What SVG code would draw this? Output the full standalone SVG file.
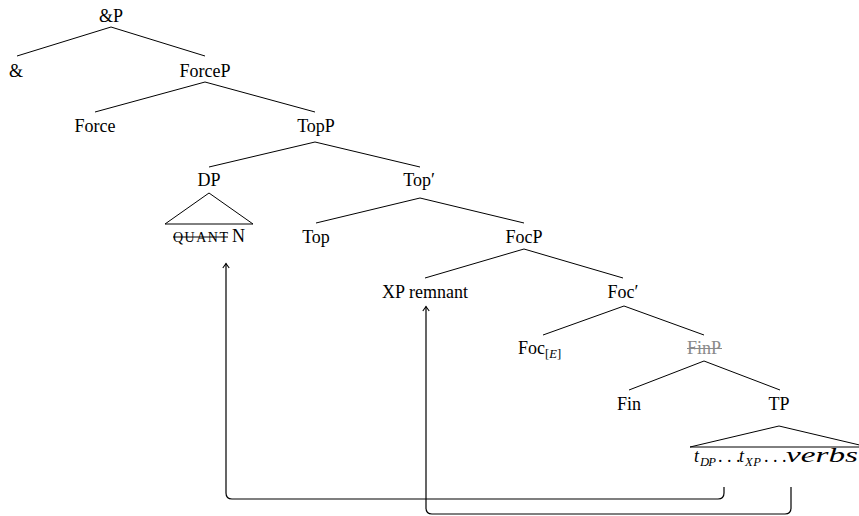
<svg xmlns="http://www.w3.org/2000/svg" width="859" height="516" viewBox="0 0 859 516" font-family="'Liberation Serif', 'Times New Roman', serif">
  <style>
    text { font-family: "Liberation Serif", "Times New Roman", "DejaVu Serif", serif; }
    .lbl { font-size: 18px; fill: #000; text-anchor: middle; }
    .it { font-style: italic; }
    .sub { font-size: 12.6px; }
    .gray { fill: #8a8a8a; }
    .edge { fill: none; stroke: #000; stroke-width: 1; }
    .strike { stroke: #000; stroke-width: 1; }
    .strike.gray { stroke: #8a8a8a; }
    .move { fill: none; stroke: #000; stroke-width: 1.2; }
  </style>
  <defs>
    <marker id="tip" markerUnits="userSpaceOnUse" markerWidth="12" markerHeight="12" refX="0" refY="0" viewBox="-6 -6 12 12" orient="auto" overflow="visible">
      <path d="M -4.5,-3.2 Q -1.2,-0.8 0,0 Q -1.2,0.8 -4.5,3.2" fill="none" stroke="#000" stroke-width="1.1"/>
    </marker>
  </defs>

  <!-- tree branches -->
  <g id="branches">
    <path class="edge" d="M17,56 L111,27 L205,56"/>
    <path class="edge" d="M95,112 L205,82 L315,112"/>
    <path class="edge" d="M209,167 L315,142 L420,167"/>
    <path class="edge" d="M316,223 L420,198 L524,223"/>
    <path class="edge" d="M425,278 L524,249 L623,278"/>
    <path class="edge" d="M543,335 L624,306 L704,335"/>
    <path class="edge" d="M629,390 L704,361 L780,390"/>
    <!-- roofs -->
    <path class="edge" d="M165,224 L209,193 L253,224 Z"/>
    <path class="edge" d="M690,447 L779,426 L868,447 Z"/>
  </g>

  <g id="andP"><text class="lbl" x="111" y="22">&amp;P</text></g>
  <g id="and"><text class="lbl" x="16" y="77">&amp;</text></g>
  <g id="forceP"><text class="lbl" x="205" y="77">ForceP</text></g>
  <g id="force"><text class="lbl" x="95" y="132">Force</text></g>
  <g id="topP"><text class="lbl" x="316" y="132">TopP</text></g>
  <g id="dp"><text class="lbl" x="209" y="186">DP</text></g>
  <g id="topBar"><text class="lbl" x="419" y="186">Top′</text></g>
  <g id="quantN">
    <text class="lbl" x="173" y="242" style="text-anchor:start;font-size:14px" textLength="55" lengthAdjust="spacing">QUANT</text>
    <line class="strike" x1="173" y1="237" x2="228" y2="237"/>
    <text class="lbl" x="232" y="242" style="text-anchor:start">N</text>
  </g>
  <g id="top"><text class="lbl" x="316" y="243">Top</text></g>
  <g id="focP"><text class="lbl" x="524" y="243">FocP</text></g>
  <g id="xpRemnant"><text class="lbl" x="425" y="298">XP remnant</text></g>
  <g id="focBar"><text class="lbl" x="623" y="298">Foc′</text></g>
  <g id="focE">
    <text class="lbl" x="518" y="354" style="text-anchor:start">Foc<tspan class="sub" dy="4">[<tspan class="it">E</tspan>]</tspan></text>
  </g>
  <g id="finP">
    <text class="lbl gray" x="704" y="354">FinP</text>
    <line class="strike gray" x1="687" y1="348.5" x2="722" y2="348.5"/>
  </g>
  <g id="fin"><text class="lbl" x="629" y="410">Fin</text></g>
  <g id="tp"><text class="lbl" x="779" y="410">TP</text></g>
  <g id="tpContent">
    <text class="lbl it" y="462" style="text-anchor:start"><tspan x="694">t</tspan><tspan class="sub" x="700" dy="4" textLength="16" lengthAdjust="spacing">DP</tspan><tspan x="718" dy="-4" style="font-style:normal">. . .</tspan><tspan x="739">t</tspan><tspan class="sub" x="745" dy="4" textLength="16" lengthAdjust="spacing">XP</tspan><tspan x="764" dy="-4" style="font-style:normal">. . .</tspan></text>
    <text class="lbl it" x="786" y="462" style="text-anchor:start;font-size:20px" textLength="72" lengthAdjust="spacingAndGlyphs">verbs</text>
  </g>

  <!-- movement arrows -->
  <g id="connectors">
    <path class="move" d="M724,487 V493 Q724,499 718,499 H232 Q226,499 226,493 V263.5" marker-end="url(#tip)"/>
    <path class="move" d="M791,487 V508 Q791,514 785,514 H432 Q426,514 426,508 V306.5" marker-end="url(#tip)"/>
  </g>
</svg>
